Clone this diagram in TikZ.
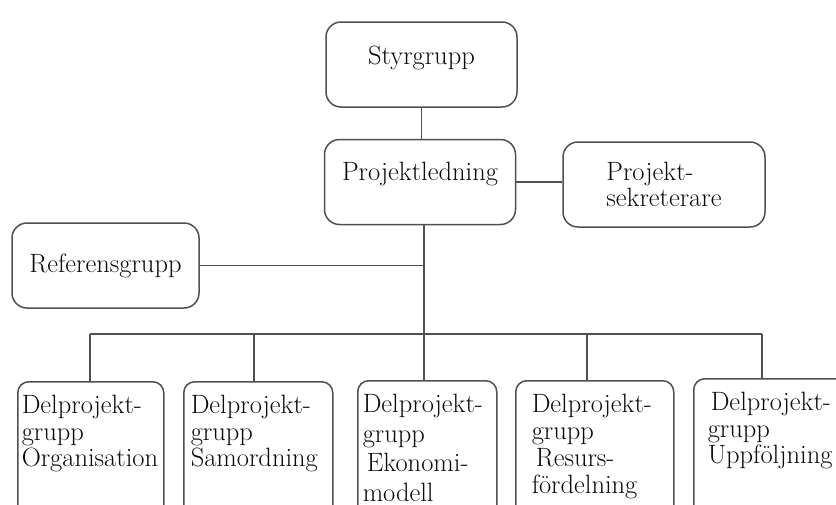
\documentclass[tikz,border=0pt]{standalone}
\usepackage{tikz}
\usetikzlibrary{positioning}
\definecolor{orgline}{RGB}{80,80,80}
\definecolor{orgtext}{RGB}{10,10,10}
\begin{document}
\begin{tikzpicture}[x=1pt,y=-1pt,font=\fontsize{26.5}{26.5}\selectfont,text=orgtext,
    topbox/.style={draw=orgline,line width=1.5pt,rounded corners=15pt,inner sep=0pt,
      minimum height=85,align=left},
    subbox/.style={draw=orgline,line width=1.5pt,rounded corners=11pt,anchor=north west,
      align=left,inner ysep=0pt,text height=32pt,text depth=110pt},
    link/.style={draw=orgline,line width=1.3pt}]
  \useasboundingbox (0,0) rectangle (836,504);
  % top of the chart
  \node[topbox,minimum width=191,text depth=18pt] (styr) at (421.5,64.5) {Styrgrupp};
  \node[topbox,minimum width=191,text depth=21pt] (proj) at (420,182) {Projektledning};
  \node[topbox,minimum width=202] (sekr) at (664,184.5) {Projekt-\\sekreterare};
  \node[topbox,minimum width=187] (ref) at (105.5,265.5) {Referensgrupp};
  % delprojektgrupper
  \node[subbox,inner xsep=4pt,text width=138pt] (d1) at (17,381)
    {Delprojekt-\\grupp\\Organisation};
  \node[subbox,inner xsep=7pt,text width=135pt] (d2) at (183,381)
    {Delprojekt-\\grupp\\Samordning};
  \node[subbox,inner xsep=5pt,text width=129pt,font=\fontsize{26.5}{29.5}\selectfont] (d3) at (357,380)
    {Delprojekt-\\grupp\\\hspace*{4pt}Ekonomi-\\modell};
  \node[subbox,inner xsep=16pt,text width=126pt,font=\fontsize{26.5}{27}\selectfont] (d4) at (515,380)
    {Delprojekt-\\grupp\\\hspace*{4pt}Resurs-\\fördelning};
  \node[subbox,inner xsep=14pt,text width=140pt] (d5) at (693,378)
    {\hspace*{3pt}Delprojekt-\\grupp\\Uppföljning};
  % taps on the bus
  \coordinate (tap1) at (90,334);
  \coordinate (tap2) at (254,334);
  \coordinate (tap3) at (424,334);
  \coordinate (tap4) at (587,334);
  \coordinate (tap5) at (762,334);
  % connectors
  \draw[link] (styr.south) -- (styr.south |- proj.north);
  \draw[link] (proj.east) -- (sekr.west |- proj.east);
  \draw[link] (tap3 |- proj.south) -- (tap3);
  \draw[link] (ref.east) -- (ref.east -| tap3);
  \draw[link] (tap1) -- (tap5);
  \foreach \i in {1,...,5}
    \draw[link] (tap\i) -- (tap\i |- d\i.north);
\end{tikzpicture}
\end{document}
